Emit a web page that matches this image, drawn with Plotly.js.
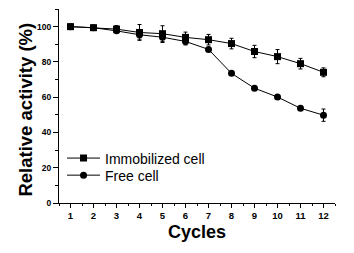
<!DOCTYPE html>
<html><head><meta charset="utf-8">
<script src="https://cdn.plot.ly/plotly-3.0.1.min.js"></script>
<style>html,body{margin:0;padding:0;background:#fff;}#c{width:354px;height:253px;}</style>
</head><body><div id="c"></div>
<script>
const cycles = [1,2,3,4,5,6,7,8,9,10,11,12];
const immobilized = [100,99.4,98.6,96.7,96,93.9,92.6,90.4,85.9,83,79,74.1];
const immobilizedErr = [0.6,0.6,2,4.5,4.5,3,3,3,3.5,4,3,2.5];
const free = [100,99.4,97.6,95.4,94,91.6,87.1,73.5,65.1,60.1,53.7,49.8];
const freeErr = [0.5,0.5,1,2.5,3,2,1,1,1,1,1,3.5];
const yTicks = [0,20,40,60,80,100];

const font = 'Arial, "Liberation Sans", sans-serif';
const legFont = {family: font, size: 14, color: '#000'};
const traces = [
  {x: cycles, y: immobilized, name: 'Immobilized cell', type: 'scatter', mode: 'lines+markers', legend: 'legend',
   line: {color: '#000', width: 1}, marker: {symbol: 'square', size: 7, color: '#000'},
   error_y: {type: 'data', array: immobilizedErr, visible: true, color: '#000', thickness: 1, width: 2}},
  {x: cycles, y: free, name: 'Free cell', type: 'scatter', mode: 'lines+markers', legend: 'legend2',
   line: {color: '#000', width: 1}, marker: {symbol: 'circle', size: 7, color: '#000'},
   error_y: {type: 'data', array: freeErr, visible: true, color: '#000', thickness: 1, width: 2}}
];
const layout = {
  width: 354, height: 253,
  margin: {l: 59, r: 19, t: 9, b: 50},
  paper_bgcolor: '#fff', plot_bgcolor: '#fff',
  showlegend: true,
  legend: {x: 0.011, y: 0.312, xanchor: 'left', yanchor: 'top', bgcolor: 'rgba(0,0,0,0)',
           font: legFont, itemwidth: 33},
  legend2: {x: 0.011, y: 0.224, xanchor: 'left', yanchor: 'top', bgcolor: 'rgba(0,0,0,0)',
           font: legFont, itemwidth: 33},
  xaxis: {range: [0.5, 12.5], tickvals: cycles, ticks: 'outside', ticklen: 4, tickwidth: 1,
          tickcolor: '#000', showline: true, linecolor: '#000', linewidth: 1, showgrid: false, zeroline: false,
          tickfont: {family: font, size: 9.5, color: '#000', weight: 'bold'},
          minor: {dtick: 0.5, tick0: 0.5, ticks: 'outside', ticklen: 2, tickcolor: '#000'}},
  yaxis: {range: [0, 110], tickvals: yTicks, ticks: 'outside', ticklen: 5, tickwidth: 1,
          tickcolor: '#000', showline: true, linecolor: '#000', linewidth: 1, showgrid: false, zeroline: false,
          tickfont: {family: font, size: 8.5, color: '#000', weight: 'bold'},
          minor: {dtick: 10, ticks: 'outside', ticklen: 3, tickcolor: '#000'}},
  annotations: [
    {text: 'Relative activity (%)', xref: 'paper', yref: 'paper', x: -0.123, y: 0.482, textangle: -90,
     showarrow: false, xanchor: 'center', yanchor: 'middle', font: {family: font, size: 18.5, color: '#000', weight: 'bold'}},
    {text: 'Cycles', xref: 'paper', yref: 'paper', x: 0.5, y: -0.149, showarrow: false,
     xanchor: 'center', yanchor: 'middle', font: {family: font, size: 18, color: '#000', weight: 'bold'}}
  ]
};
Plotly.newPlot('c', traces, layout, {staticPlot: true, displayModeBar: false});
</script></body></html>
